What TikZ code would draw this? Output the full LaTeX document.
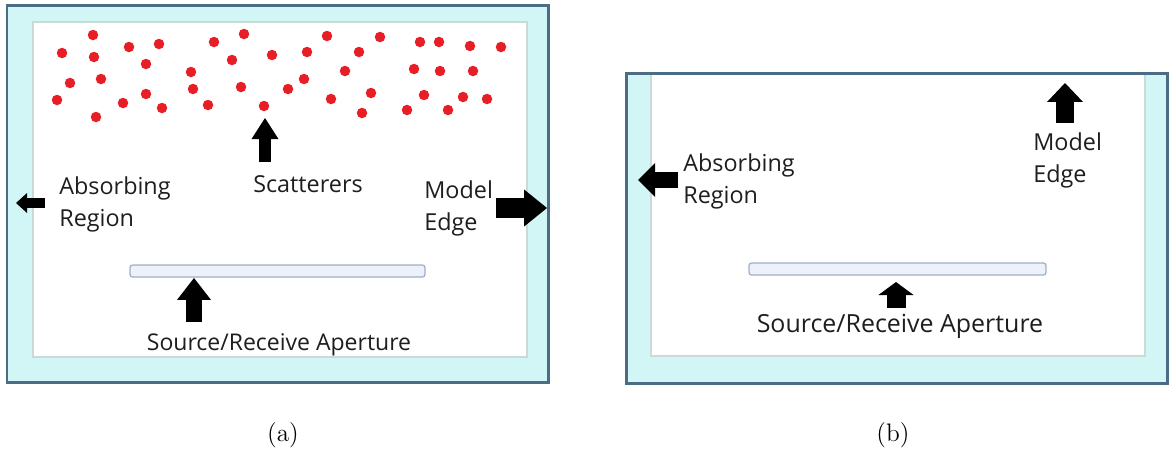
\documentclass[tikz,border=0pt]{standalone}
\usepackage{fontspec}
\newfontfamily\lblfont{Open Sans}
\usetikzlibrary{positioning,arrows.meta}
\definecolor{framecol}{RGB}{74,108,132}
\definecolor{absorbcol}{RGB}{210,246,246}
\definecolor{innercol}{RGB}{200,220,212}
\definecolor{scatcol}{RGB}{232,30,38}
\definecolor{apfill}{RGB}{236,241,250}
\definecolor{apdraw}{RGB}{160,174,198}
\definecolor{txtcol}{RGB}{30,30,30}
\tikzset{
  outerbox/.style={draw=framecol, line width=1.7pt},
  innerbox/.style={draw=innercol, line width=0.6pt, fill=white},
  scatterer/.style={circle, fill=scatcol, inner sep=0pt, minimum size=0.21cm},
  aperture/.style={draw=apdraw, fill=apfill, rounded corners=1.5pt, line width=0.7pt},
  lbl/.style={font=\lblfont\fontsize{13.3}{18.2}\selectfont, text=txtcol, inner sep=0pt, align=left},
  blockarrow/.style n args={3}{black, line width=#1, -{Triangle[width=#2, length=#3, line width=0pt]}}
}

\begin{document}
\begin{tikzpicture}[x=0.02cm, y=-0.02cm]
  \useasboundingbox (0,0) rectangle (1169,451);

  % (a) model with absorbing region
  \fill[absorbcol] (7,5) rectangle (548,382);
  \draw[innerbox] (33,22) rectangle (527,357);
  \draw[outerbox] (7,5) rectangle (548,382);

  % scatterers
  \foreach \x/\y [count=\i] in {62/53, 93/35, 94/57, 129/47, 159/44, 146/64, 70/83, 101/79,
      57/100, 96/117, 123/103, 146/94, 162/108, 191/72, 193/89, 208/105, 214/42, 244/34,
      232/60, 241/87, 264/106, 272/55, 288/89, 304/79, 307/52, 327/36, 345/71, 331/99,
      359/52, 380/37, 371/93, 362/113, 420/42, 439/42, 470/46, 501/47, 414/69, 440/71,
      473/71, 424/95, 407/110, 448/110, 463/97, 487/99}
    \node[scatterer] (s\i) at (\x,\y) {};

  % labels (a)
  \node[lbl, anchor=base] (scat) at (308,192) {Scatterers};
  \node[lbl, anchor=base west] (absA) at (59,226) {Absorbing\\Region};
  \node[lbl, anchor=base west] (edgeA) at (424,230) {Model\\Edge};

  % aperture (a)
  \draw[aperture] (130,265) rectangle (425,277);
  \node[lbl, font=\lblfont\fontsize{13.1}{16}\selectfont, anchor=base] (srcA) at (279,350) {Source/Receive Aperture};

  % arrows (a)
  \coordinate (scatTail) at (265,162);
  \coordinate (scatTip) at (265,118);
  \draw[blockarrow={6.8pt}{15.4pt}{12pt}] (scatTail) -- (scatTip);
  \coordinate (absATail) at (45,203);
  \coordinate (absATip) at (16,203);
  \draw[blockarrow={5.7pt}{11.4pt}{6.3pt}] (absATail) -- (absATip);
  \coordinate (edgeATail) at (496,208);
  \coordinate (edgeATip) at (547,208);
  \draw[blockarrow={11.4pt}{21pt}{13pt}] (edgeATail) -- (edgeATip);
  \coordinate (srcATail) at (194,322);
  \coordinate (srcATip) at (194,278);
  \draw[blockarrow={9.1pt}{19.4pt}{12.5pt}] (srcATail) -- (srcATip);

  % (b) model without scatterers
  \fill[absorbcol] (626,73) rectangle (1167,383);
  \draw[innerbox] (651,73) rectangle (1145,356);
  \draw[outerbox] (626,73) rectangle (1167,383);

  % labels (b)
  \node[lbl, anchor=base west] (absB) at (683,203) {Absorbing\\Region};
  \node[lbl, anchor=base west] (edgeB) at (1033,182) {Model\\Edge};

  % aperture (b)
  \draw[aperture] (749,263) rectangle (1046,275);
  \node[lbl, font=\lblfont\fontsize{14.2}{17}\selectfont, anchor=base] (srcB) at (900,332) {Source/Receive Aperture};

  % arrows (b)
  \coordinate (edgeBTail) at (1065,123);
  \coordinate (edgeBTip) at (1065,83);
  \draw[blockarrow={10.2pt}{20.5pt}{10.8pt}] (edgeBTail) -- (edgeBTip);
  \coordinate (absBTail) at (678,180);
  \coordinate (absBTip) at (638,180);
  \draw[blockarrow={9.1pt}{19.4pt}{9.7pt}] (absBTail) -- (absBTip);
  \coordinate (srcBTail) at (896,308);
  \coordinate (srcBTip) at (896,282);
  \draw[blockarrow={10.8pt}{20pt}{7.4pt}] (srcBTail) -- (srcBTip);

  % captions
  \node[font=\fontsize{14.4}{17}\selectfont, anchor=base] (capA) at (283,441) {(a)};
  \node[font=\fontsize{14.4}{17}\selectfont, anchor=base] (capB) at (893,441) {(b)};
\end{tikzpicture}
\end{document}
